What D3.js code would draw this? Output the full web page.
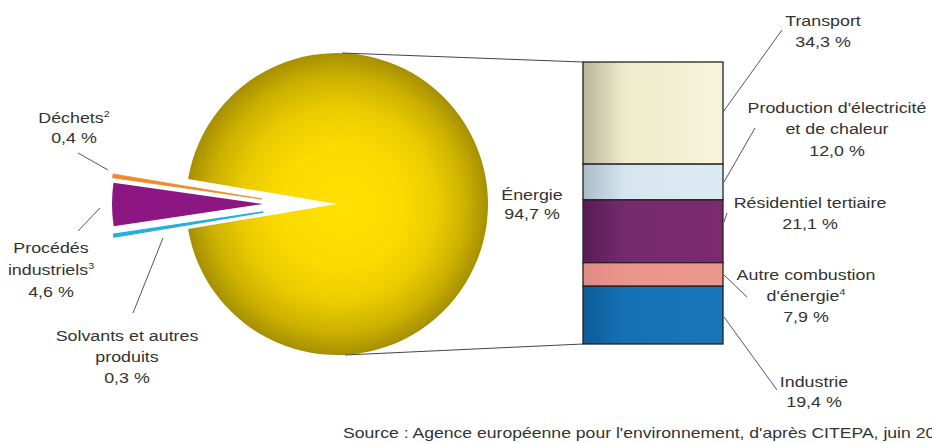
<!DOCTYPE html>
<html><head><meta charset="utf-8">
<script src="https://cdn.jsdelivr.net/npm/d3@7"></script>
<style>
html,body{margin:0;padding:0;background:#fff;overflow:hidden;}
svg{display:block;}
text{font-family:"Liberation Sans",Arial,sans-serif;fill:#333;}
</style></head>
<body>
<svg id="chart" width="932" height="443"></svg>
<script>
// ---- data ----
const pieCategories = ["Énergie", "Solvants et autres produits", "Procédés industriels", "Déchets"];
const pieValues = [94.7, 0.3, 4.6, 0.4];
const barCategories = ["Transport", "Production d'électricité et de chaleur", "Résidentiel tertiaire", "Autre combustion d'énergie", "Industrie"];
const barValues = [34.3, 12.0, 21.1, 7.9, 19.4];
const sourceText = "Source : Agence européenne pour l'environnement, d'après CITEPA, juin 2008";

// ---- layout ----
const svg = d3.select("#chart");
const cx = 331, cy = 204, R = 151;
const FS = 15, SX = 1.19;
const pieColors = ["url(#gEnergy)", "#27aee0", "#8c1682", "#ef8a2a"];
const pieOffsets = [[6, 0], [-68, 8], [-68, 0], [-69, -5]];
const pieExtraStroke = [0, 1.6, 0, 0.8];
const barColors = [["#b9b59c", "#efebcc", "#f7f4da"], ["#a9bdc9", "#d6e5ef", "#dceaf3"], ["#5a1c56", "#742a6c", "#7b2b70"], ["#df8a83", "#eb968d", "#ec988f"], ["#0c5c98", "#1670b4", "#1a74b8"]];
const barX0 = 583, barX1 = 723, barTop = 62, barBottom = 344;

const defs = svg.append("defs");
const rg = defs.append("radialGradient").attr("id", "gEnergy")
  .attr("gradientUnits", "userSpaceOnUse")
  .attr("cx", 0).attr("cy", 0).attr("r", R)
  .attr("fx", 8).attr("fy", 4);
[[0, "#ffe000"], [0.4, "#fcdb00"], [0.65, "#eacb00"], [0.85, "#cbb000"], [1, "#a68f00"]]
  .forEach(([o, c]) => rg.append("stop").attr("offset", o).attr("stop-color", c));

barColors.forEach((cs, i) => {
  const lg = defs.append("linearGradient").attr("id", "gBar" + i)
    .attr("x1", 0).attr("x2", 1).attr("y1", 0).attr("y2", 0);
  lg.append("stop").attr("offset", 0).attr("stop-color", cs[0]);
  lg.append("stop").attr("offset", 0.3).attr("stop-color", cs[1]);
  lg.append("stop").attr("offset", 1).attr("stop-color", cs[2]);
});

// ---- pie ----
const total = d3.sum(pieValues);
const smallShare = (total - pieValues[0]) / total;
const start = 1.5 * Math.PI + smallShare * Math.PI;
const pie = d3.pie().sort(null).startAngle(start).endAngle(start + 2 * Math.PI);
const arcs = pie(pieValues);
const arcGen = d3.arc().innerRadius(0).outerRadius(R);

svg.append("g").attr("transform", `translate(${cx},${cy})`)
  .selectAll("path").data(arcs).join("path")
  .attr("transform", (d, i) => `translate(${pieOffsets[i][0]},${pieOffsets[i][1]})`)
  .attr("d", arcGen)
  .attr("fill", (d, i) => pieColors[i])
  .attr("stroke", (d, i) => pieExtraStroke[i] ? pieColors[i] : "none")
  .attr("stroke-width", (d, i) => pieExtraStroke[i])
  .attr("stroke-linejoin", "round");

// ---- connector lines pie -> bar ----
const ecx = cx + pieOffsets[0][0];
svg.append("line").attr("x1", ecx + 5).attr("y1", cy - R).attr("x2", barX0).attr("y2", barTop)
  .attr("stroke", "#444").attr("stroke-width", 1);
svg.append("line").attr("x1", ecx + 8).attr("y1", cy + R).attr("x2", barX0).attr("y2", barBottom)
  .attr("stroke", "#444").attr("stroke-width", 1);

// ---- stacked bar ----
const barTotal = d3.sum(barValues);
const y = d3.scaleLinear().domain([0, barTotal]).range([barTop, barBottom]);
const cum = [0, ...d3.cumsum(barValues)];
svg.append("g").selectAll("rect").data(barValues).join("rect")
  .attr("x", barX0).attr("width", barX1 - barX0)
  .attr("y", (d, i) => y(cum[i]))
  .attr("height", (d, i) => y(cum[i + 1]) - y(cum[i]))
  .attr("fill", (d, i) => `url(#gBar${i})`)
  .attr("stroke", "#222").attr("stroke-width", 1.3);

// ---- labels ----
function label(x, yb, lines, lh, anchor = "middle") {
  const g = svg.append("g").attr("transform", `translate(${x},${yb}) scale(${SX},1)`);
  lines.forEach((segs, k) => {
    const t = g.append("text").attr("x", 0).attr("y", k * lh)
      .attr("text-anchor", anchor).attr("font-size", FS);
    segs.forEach(s => {
      if (typeof s === "string") t.append("tspan").text(s);
      else t.append("tspan").attr("font-size", 9).attr("dy", -6).text(s.sup);
    });
  });
}
function fmt(v) { return d3.format(".1f")(v).replace(".", ",") + " %"; }

label(74, 123, [["Déchets", {sup: "2"}], [fmt(pieValues[3])]], 20);
label(51, 253, [["Procédés"], ["industriels", {sup: "3"}], [fmt(pieValues[2])]], 22);
label(127, 341, [["Solvants et autres"], ["produits"], [fmt(pieValues[1])]], 21);
label(532, 200, [["Énergie"], [fmt(pieValues[0])]], 19);

label(823, 26, [["Transport"], [fmt(barValues[0])]], 21);
label(837, 113, [["Production d'électricité"], ["et de chaleur"], [fmt(barValues[1])]], 21.5);
label(810, 208, [["Résidentiel tertiaire"], [fmt(barValues[2])]], 21);
label(806, 280, [["Autre combustion"], ["d'énergie", {sup: "4"}], [fmt(barValues[3])]], 21);
label(814, 387, [["Industrie"], [fmt(barValues[4])]], 20);

// ---- leader lines ----
const leaders = [
  [723, 112, 782, 30], [724, 182, 755, 128], [724, 222, 727, 213],
  [724, 275, 747, 297], [724, 317, 777, 390],
  [78, 153, 108, 170], [100, 208, 78, 231], [133, 313, 163, 238]
];
svg.append("g").selectAll("line").data(leaders).join("line")
  .attr("x1", d => d[0]).attr("y1", d => d[1]).attr("x2", d => d[2]).attr("y2", d => d[3])
  .attr("stroke", "#555").attr("stroke-width", 1);

// ---- source ----
svg.append("g").attr("transform", `translate(343,438) scale(${SX},1)`)
  .append("text").attr("font-size", 14.8).text(sourceText);
</script>
</body></html>
